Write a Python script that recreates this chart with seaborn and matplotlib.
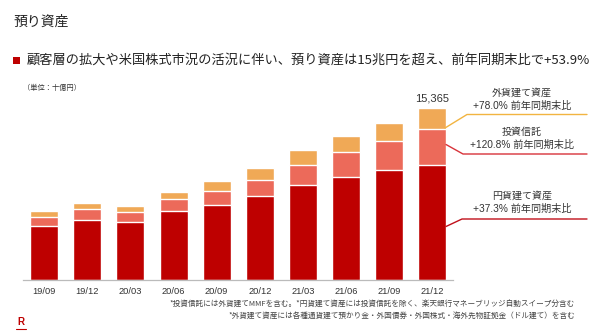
import matplotlib
matplotlib.use("Agg")
import matplotlib.pyplot as plt
import seaborn as sns
import pandas as pd
import numpy as np
from matplotlib.lines import Line2D

# ---- data (十億円) ----
periods = ["19/09", "19/12", "20/03", "20/06", "20/09", "20/12", "21/03", "21/06", "21/09", "21/12"]
yen_assets = [4815, 5380, 5170, 6130, 6720, 7465, 8475, 9160, 9810, 10225]
inv_trusts = [830, 950, 860, 1070, 1195, 1455, 1810, 2230, 2615, 3240]
fx_assets = [505, 535, 535, 680, 920, 1070, 1310, 1480, 1550, 1900]
total_label = "15,365"

series_names = ["円貨建て資産", "投資信託", "外貨建て資産"]
series_notes = ["+37.3% 前年同期末比", "+120.8% 前年同期末比", "+78.0% 前年同期末比"]

title = "預り資産"
subtitle = "顧客層の拡大や米国株式市況の活況に伴い、預り資産は15兆円を超え、前年同期末比で+53.9%"
unit = "（単位：十億円）"
foot1 = "*投資信託には外貨建てMMFを含む。*円貨建て資産には投資信託を除く、楽天銀行マネーブリッジ自動スイープ分含む"
foot2 = "*外貨建て資産には各種通貨建て預かり金・外国債券・外国株式・海外先物証拠金（ドル建て）を含む"

c_red = "#BE0000"
c_salmon = "#EC6A5A"
c_orange = "#F0A956"

sns.set_theme(style="white")
plt.rcParams["font.family"] = ["Liberation Sans", "Noto Sans CJK JP"]

W, H = 600, 336
fig = plt.figure(figsize=(6, 3.36), dpi=100)
fig.patch.set_facecolor("white")

def fx(px):
    return px / W

def fy(py):
    return 1 - py / H

ax = fig.add_axes([fx(23), fy(280), fx(453) - fx(23), (280 - 100.6) / H])

df = pd.DataFrame({
    "period": periods,
    "yen": yen_assets,
    "trust": inv_trusts,
    "fx": fx_assets,
})
df["lvl2"] = df["yen"] + df["trust"]
df["lvl3"] = df["lvl2"] + df["fx"]

bw = 0.65
for col, color in [("lvl3", c_orange), ("lvl2", c_salmon), ("yen", c_red)]:
    sns.barplot(data=df, x="period", y=col, color=color, width=bw,
                edgecolor="white", linewidth=1.0, saturation=1, ax=ax)

ax.set_xlim(-0.49, 9.48)
ax.set_ylim(0, 16000)
ax.set_xlabel("")
ax.set_ylabel("")
ax.set_yticks([])
for s in ["top", "right", "left"]:
    ax.spines[s].set_visible(False)
ax.spines["bottom"].set_color("#BBBBBB")
ax.spines["bottom"].set_linewidth(0.9)
ax.tick_params(axis="x", length=0, pad=5, labelsize=6.7, colors="#333333")

# total label on last bar
ax.text(9, df["lvl3"].iloc[-1] + 350, total_label, ha="center", va="bottom",
        fontsize=8, color="#333333")

# titles
fig.text(fx(13), fy(22), title, fontsize=10, color="#222222", va="center", ha="left",
         family=["Noto Sans CJK JP"])
fig.patches.append(plt.Rectangle((fx(13), fy(64)), fx(7), 7 / H, transform=fig.transFigure,
                                 facecolor=c_red, edgecolor="none"))
fig.text(fx(27), fy(60), subtitle, fontsize=9.5, color="#222222", va="center", ha="left",
         family=["Noto Sans CJK JP"])
fig.text(fx(23), fy(88), unit, fontsize=5.2, color="#333333", va="center", ha="left",
         family=["Noto Sans CJK JP"])

# annotations
ann = [
    # name y, note y, line y, start (x,y), elbow x, color
    (93, 106, 114.5, (445, 128), 467, "#F2B441", 2),
    (132, 145, 154, (446, 144.5), 463, "#D8333A", 1),
    (196, 209, 219, (446, 226.5), 462, "#C0101A", 0),
]
for ny, my, ly, (sx, sy), ex, lc, idx in ann:
    fig.text(fx(522), fy(ny), series_names[idx], fontsize=7.2, ha="center", va="center",
             color="#333333", family=["Noto Sans CJK JP"])
    fig.text(fx(522), fy(my), series_notes[idx], fontsize=7.3, ha="center", va="center",
             color="#333333")
    fig.add_artist(Line2D([fx(sx), fx(ex), fx(587)], [fy(sy), fy(ly), fy(ly)],
                          transform=fig.transFigure, color=lc, linewidth=1.0))

# footnotes
fig.text(fx(575), fy(305), foot1, fontsize=5.5, ha="right", va="center", color="#444444",
         family=["Noto Sans CJK JP"])
fig.text(fx(575), fy(316), foot2, fontsize=5.5, ha="right", va="center", color="#444444",
         family=["Noto Sans CJK JP"])

# logo
fig.text(fx(21), fy(322), "R", fontsize=7, fontweight="bold", ha="center", va="center",
         color=c_red, family=["Liberation Sans"])
fig.add_artist(Line2D([fx(16), fx(26)], [fy(329), fy(329)], transform=fig.transFigure,
                      color=c_red, linewidth=0.8))

fig.savefig("out.png", dpi=100, facecolor="white")
